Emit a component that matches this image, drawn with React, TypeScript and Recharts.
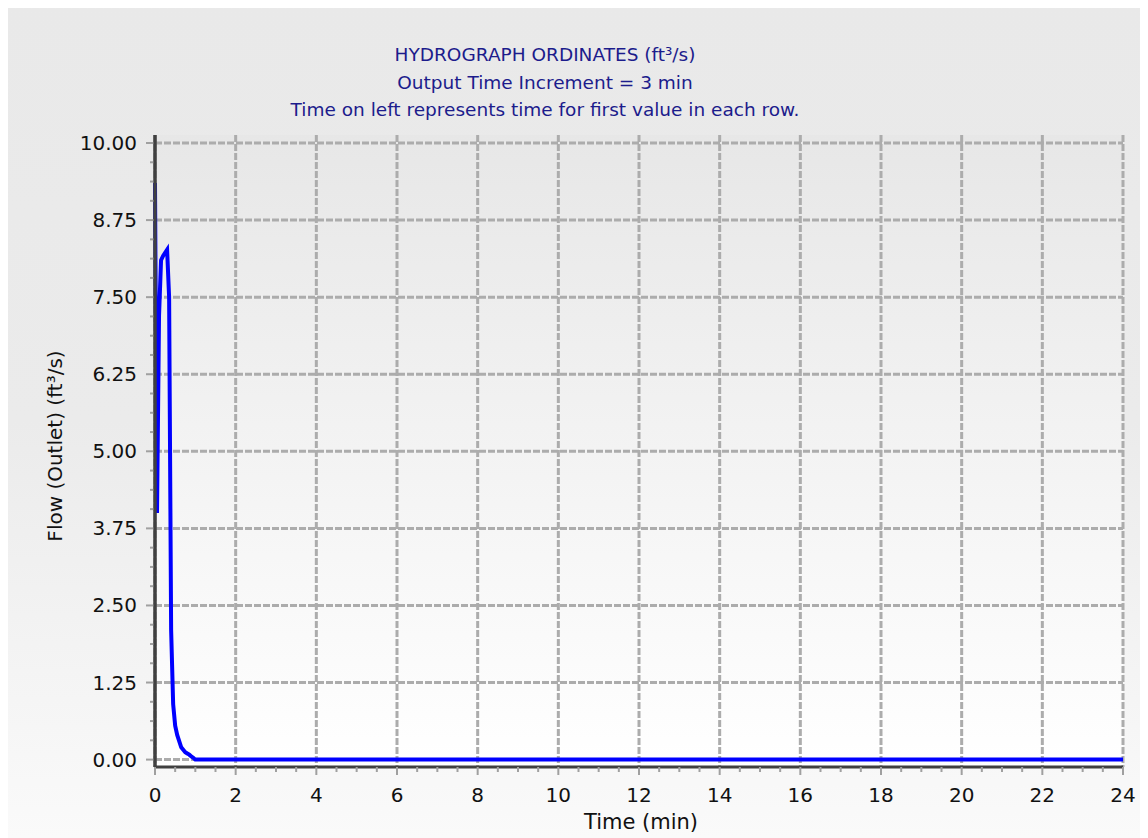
import React from 'react';
import { LineChart, Line, XAxis, YAxis, CartesianGrid, ReferenceLine } from 'recharts';

// hydrograph ordinates (time, flow)
const TIMES = [0, 0.05, 0.1, 0.15, 0.2, 0.25, 0.3, 0.35, 0.4, 0.45, 0.5, 0.55, 0.6, 0.65, 0.7, 0.75, 0.8, 0.85, 0.9, 0.95, 1.0, 24];
const FLOWS = [9.35, 4.0, 7.2, 8.1, 8.17, 8.22, 8.27, 7.5, 2.1, 0.9, 0.55, 0.4, 0.3, 0.2, 0.16, 0.12, 0.1, 0.08, 0.05, 0.03, 0.0, 0.0];

const X_MAJOR = [0, 2, 4, 6, 8, 10, 12, 14, 16, 18, 20, 22, 24];
const Y_MAJOR = [0, 1.25, 2.5, 3.75, 5, 6.25, 7.5, 8.75, 10];
const Y_LABELS = ['0.00', '1.25', '2.50', '3.75', '5.00', '6.25', '7.50', '8.75', '10.00'];

const TITLE_LINES = [
  'HYDROGRAPH ORDINATES (ft³/s)',
  'Output Time Increment = 3 min',
  'Time on left represents time for first value in each row.',
];

// minor ticks: 4 sub-steps between the major ones
const subdivide = (major: number[]) => {
  const out: number[] = [];
  for (let i = 0; i < major.length - 1; i++) {
    const step = (major[i + 1] - major[i]) / 4;
    for (let k = 0; k < 4; k++) out.push(major[i] + k * step);
  }
  out.push(major[major.length - 1]);
  return out;
};
const X_TICKS = subdivide(X_MAJOR);
const Y_TICKS = subdivide(Y_MAJOR);

const data = TIMES.map((t, i) => ({ time: t, flow: FLOWS[i] }));

const FONT = '"DejaVu Sans", Verdana, sans-serif';
const W = 1142;
const H = 834;
const Y_DOMAIN: [number, number] = [-0.12, 10.13];

const YTick = (props: any) => {
  const { x, y, payload } = props;
  const idx = Y_MAJOR.findIndex((m) => Math.abs(m - payload.value) < 1e-6);
  const major = idx >= 0;
  return (
    <g>
      <line x1={x - (major ? 9 : 5)} x2={x} y1={y} y2={y} stroke="#a0a0a0" strokeWidth={2} />
      {major && (
        <text x={x - 18} y={y} dy={7} textAnchor="end" fontSize={20} fontFamily={FONT} fill="#111">
          {Y_LABELS[idx]}
        </text>
      )}
    </g>
  );
};

const XTick = (props: any) => {
  const { x, y, payload } = props;
  const major = X_MAJOR.some((m) => Math.abs(m - payload.value) < 1e-6);
  return (
    <g>
      <line x1={x} x2={x} y1={y} y2={y + (major ? 8 : 5)} stroke="#a0a0a0" strokeWidth={2} />
      {major && (
        <text x={x} y={y + 35} textAnchor="middle" fontSize={20} fontFamily={FONT} fill="#111">
          {payload.value}
        </text>
      )}
    </g>
  );
};

export default function App() {
  return (
    <div
      style={{
        width: W,
        height: H,
        margin: '-4px 0 0 -2px',
        background: 'linear-gradient(#e9e9e9 0%, #ebebeb 50%, #fafafa 100%)',
        position: 'relative',
      }}
    >
      <LineChart width={W} height={H} data={data} margin={{ top: 131, right: 25, left: 0, bottom: 0 }}>
        <defs>
          <linearGradient id="plotBg" x1="0" y1="0" x2="0" y2="1">
            <stop offset="0%" stopColor="#e7e7e7" />
            <stop offset="100%" stopColor="#ffffff" />
          </linearGradient>
        </defs>
        <CartesianGrid
          fill="url(#plotBg)"
          stroke="#acacac"
          strokeWidth={3}
          strokeDasharray="7 2"
          horizontalValues={Y_MAJOR}
          verticalValues={X_MAJOR}
        />
        <XAxis
          dataKey="time"
          type="number"
          domain={[0, 24]}
          ticks={X_TICKS}
          interval={0}
          height={71}
          tickSize={0}
          tickMargin={0}
          tick={<XTick />}
          axisLine={{ stroke: '#404040', strokeWidth: 3 }}
          tickLine={false}
        />
        <XAxis
          xAxisId="top"
          orientation="top"
          type="number"
          domain={[0, 24]}
          height={0}
          tick={false}
          tickLine={false}
          axisLine={{ stroke: '#000', strokeWidth: 2 }}
        />
        <YAxis
          type="number"
          domain={Y_DOMAIN}
          ticks={Y_TICKS}
          interval={0}
          width={149}
          tickSize={0}
          tickMargin={0}
          tick={<YTick />}
          axisLine={{ stroke: '#404040', strokeWidth: 3 }}
          tickLine={false}
          allowDataOverflow
        />
        <YAxis
          yAxisId="right"
          orientation="right"
          type="number"
          domain={Y_DOMAIN}
          width={0}
          tick={false}
          tickLine={false}
          axisLine={{ stroke: '#000', strokeWidth: 2 }}
        />
        <Line
          dataKey="flow"
          type="linear"
          stroke="#0000ff"
          strokeWidth={4}
          dot={false}
          isAnimationActive={false}
        />
        {/* redraw the left axis line over the series, as in the source */}
        <ReferenceLine x={0} stroke="#404040" strokeWidth={3} zIndex={2000} />
        <text x={539} y={57} textAnchor="middle" fontSize={18.5} fontFamily={FONT} fill="#1c1c8c">
          {TITLE_LINES[0]}
        </text>
        <text x={539} y={85} textAnchor="middle" fontSize={18.5} fontFamily={FONT} fill="#1c1c8c">
          {TITLE_LINES[1]}
        </text>
        <text x={539} y={112} textAnchor="middle" fontSize={18.5} fontFamily={FONT} fill="#1c1c8c">
          {TITLE_LINES[2]}
        </text>
        <text x={635} y={825} textAnchor="middle" fontSize={21} fontFamily={FONT} fill="#111">
          Time (min)
        </text>
        <text
          x={56}
          y={442}
          textAnchor="middle"
          fontSize={20}
          fontFamily={FONT}
          fill="#111"
          transform="rotate(-90 56 442)"
        >
          Flow (Outlet) (ft³/s)
        </text>
      </LineChart>
    </div>
  );
}
